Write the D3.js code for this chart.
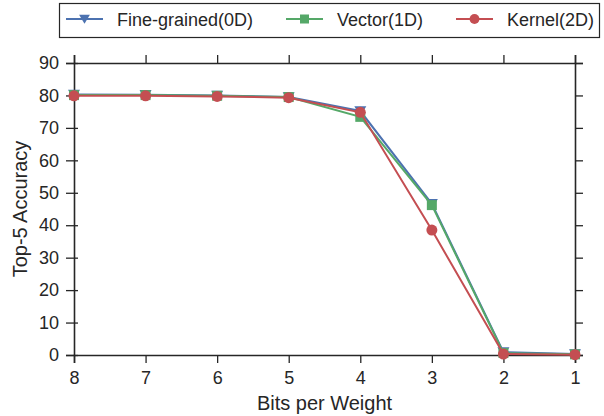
<!DOCTYPE html>
<html>
<head>
<meta charset="utf-8">
<script src="https://cdn.jsdelivr.net/npm/d3@7"></script>
<style>
  body { margin: 0; background: #fff; }
  text { font-family: "Liberation Sans", Arial, sans-serif; fill: #262626; }
</style>
</head>
<body>
<div id="chart"></div>
<script>
// data
const bits = [8, 7, 6, 5, 4, 3, 2, 1];
const fineGrained = [80.3, 80.2, 80.0, 79.5, 75.2, 46.6, 0.9, 0.3];
const vector = [80.1, 80.1, 79.9, 79.5, 73.4, 46.2, 0.6, 0.2];
const kernel = [79.9, 79.9, 79.7, 79.3, 74.8, 38.5, 0.3, 0.1];
const yTicks = [0, 10, 20, 30, 40, 50, 60, 70, 80, 90];
const seriesNames = ['Fine-grained(0D)', 'Vector(1D)', 'Kernel(2D)'];

const series = [
  { name: seriesNames[0], values: fineGrained, color: '#4C72B0', marker: 'tri' },
  { name: seriesNames[1], values: vector, color: '#55A868', marker: 'square' },
  { name: seriesNames[2], values: kernel, color: '#C44E52', marker: 'circle' }
];

const width = 604;
const height = 416;
const margin = { left: 74, top: 63, right: 29, bottom: 61 };
const innerW = width - margin.left - margin.right;
const innerH = height - margin.top - margin.bottom;

const svg = d3.select('#chart').append('svg')
  .attr('width', width)
  .attr('height', height);

const x = d3.scaleLinear().domain([8, 1]).range([0, innerW]);
const y = d3.scaleLinear().domain([0, 90]).range([innerH, 0]);

const g = svg.append('g')
  .attr('transform', `translate(${margin.left},${margin.top})`);

// axes
const axisColor = '#262626';
const axLeft = g.append('g')
  .call(d3.axisLeft(y).tickValues(yTicks).tickSize(8).tickPadding(7));
const axBottom = g.append('g')
  .attr('transform', `translate(0,${innerH})`)
  .call(d3.axisBottom(x).tickValues(bits).tickSize(8).tickPadding(8).tickFormat(d3.format('d')));
const axRight = g.append('g')
  .attr('transform', `translate(${innerW},0)`)
  .call(d3.axisRight(y).tickValues(yTicks).tickSize(8).tickFormat(''));
const axTop = g.append('g')
  .call(d3.axisTop(x).tickValues(bits).tickSize(8).tickFormat(''));

[axLeft, axBottom, axRight, axTop].forEach(a => {
  a.select('.domain').attr('stroke', axisColor).attr('stroke-width', 1.6);
  a.selectAll('.tick line').attr('stroke', axisColor).attr('stroke-width', 1.3);
  a.selectAll('.tick text')
    .style('font-family', '"Liberation Sans", Arial, sans-serif')
    .style('font-size', '18px')
    .attr('fill', '#262626');
});
// left ticks cross the spine a little
axLeft.selectAll('.tick line').attr('x1', 4);

// lines and markers
const line = d3.line()
  .x((d, i) => x(bits[i]))
  .y(d => y(d));

function drawMarker(sel, type, color, size) {
  if (type === 'circle') {
    sel.append('circle').attr('r', size * 0.55).attr('fill', color);
  } else if (type === 'square') {
    sel.append('rect')
      .attr('x', -size / 2).attr('y', -size / 2)
      .attr('width', size).attr('height', size)
      .attr('fill', color);
  } else {
    const s = size * 0.6;
    sel.append('path')
      .attr('d', `M${-s},${-s * 0.8}L${s},${-s * 0.8}L0,${s * 0.9}Z`)
      .attr('fill', color);
  }
}

series.forEach(s => {
  const sg = g.append('g');
  sg.append('path')
    .attr('d', line(s.values))
    .attr('fill', 'none')
    .attr('stroke', s.color)
    .attr('stroke-width', 2);
  s.values.forEach((v, i) => {
    const m = sg.append('g').attr('transform', `translate(${x(bits[i])},${y(v)})`);
    drawMarker(m, s.marker, s.color, 10);
  });
});

// axis titles
svg.append('text')
  .attr('x', margin.left + innerW / 2)
  .attr('y', 410)
  .attr('text-anchor', 'middle')
  .style('font-size', '20px')
  .text('Bits per Weight');

svg.append('text')
  .attr('transform', `translate(27,${margin.top + innerH / 2}) rotate(-90)`)
  .attr('text-anchor', 'middle')
  .style('font-size', '20px')
  .text('Top-5 Accuracy');

// legend
const legend = svg.append('g');
legend.append('rect')
  .attr('x', 59.5).attr('y', 3.5)
  .attr('width', 540).attr('height', 34)
  .attr('fill', '#fff')
  .attr('stroke', '#262626')
  .attr('stroke-width', 1.2);

const legendX = [66, 286, 456];
series.forEach((s, i) => {
  const lg = legend.append('g').attr('transform', `translate(${legendX[i]},19)`);
  lg.append('line')
    .attr('x1', 0).attr('x2', 37)
    .attr('stroke', s.color).attr('stroke-width', 2);
  drawMarker(lg.append('g').attr('transform', 'translate(18.5,0)'), s.marker, s.color, 9);
  lg.append('text')
    .attr('x', 51).attr('y', 6.5)
    .style('font-size', '18px')
    .text(s.name);
});
</script>
</body>
</html>
